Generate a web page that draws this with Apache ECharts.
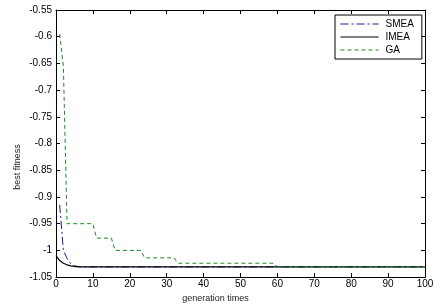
<!DOCTYPE html>
<html><head><meta charset="utf-8">
<script src="https://cdn.jsdelivr.net/npm/echarts@6/dist/echarts.min.js"></script>
<style>html,body{margin:0;padding:0;background:#fff}#c{width:441px;height:308px}</style>
</head><body><div id="c"></div>
<script>
// Data (generation, best fitness) breakpoints
const smeaGen = [1, 2, 3, 4, 5, 6, 8, 100];
const smeaFit = [-0.915, -1.0, -1.015, -1.025, -1.029, -1.030, -1.031, -1.031];
const imeaGen = [0, 1, 2, 3, 4, 6, 100];
const imeaFit = [-1.010, -1.019, -1.024, -1.027, -1.029, -1.031, -1.031];
const gaGen = [1, 2, 3, 10, 11, 15, 16, 23, 24, 32, 33, 59, 60, 100];
const gaFit = [-0.595, -0.655, -0.95, -0.95, -0.977, -0.977, -1.0, -1.0, -1.014, -1.014, -1.024, -1.024, -1.031, -1.031];
const seriesNames = ['SMEA', 'IMEA', 'GA'];
const xTicks = [0, 10, 20, 30, 40, 50, 60, 70, 80, 90, 100];
const yTicks = [-1.05, -1, -0.95, -0.9, -0.85, -0.8, -0.75, -0.7, -0.65, -0.6, -0.55];

const pairs = (xs, ys) => xs.map((x, i) => [x, ys[i]]);
const font = 'Liberation Sans, Arial, sans-serif';
const chart = echarts.init(document.getElementById('c'));
const baseX = {
  type: 'value', min: xTicks[0], max: xTicks[xTicks.length - 1], interval: 10,
  axisLine: { show: true, onZero: false, lineStyle: { color: '#000', width: 1 } },
  axisTick: { show: true, inside: true, length: 4, lineStyle: { color: '#000' } },
  splitLine: { show: false }
};
const baseY = {
  type: 'value', min: yTicks[0], max: yTicks[yTicks.length - 1], interval: 0.05,
  axisLine: { show: true, onZero: false, lineStyle: { color: '#000', width: 1 } },
  axisTick: { show: true, inside: true, length: 4, lineStyle: { color: '#000' } },
  splitLine: { show: false }
};
chart.setOption({
  animation: false,
  backgroundColor: '#fff',
  grid: { left: 56, right: 16, top: 10, bottom: 28 },
  graphic: [{
    type: 'text', x: 13, y: 167, rotation: Math.PI / 2,
    style: { text: 'best fitness', fontFamily: font, fontSize: 9, fill: '#222',
      align: 'center', verticalAlign: 'top' }
  }],
  xAxis: [
    Object.assign({}, baseX, {
      position: 'bottom',
      name: 'generation times', nameLocation: 'middle', nameGap: 14,
      nameTextStyle: { fontFamily: font, fontSize: 9, color: '#222', padding: [0, 50, 0, 0] },
      axisLabel: { fontFamily: font, fontSize: 10, color: '#000', margin: 2 }
    }),
    Object.assign({}, baseX, { position: 'top', axisLabel: { show: false } })
  ],
  yAxis: [
    Object.assign({}, baseY, {
      position: 'left',
      axisLabel: { fontFamily: font, fontSize: 10, color: '#000', margin: 4,
        formatter: v => String(+v.toFixed(2)) }
    }),
    Object.assign({}, baseY, { position: 'right', axisLabel: { show: false } })
  ],
  legend: {
    orient: 'vertical', left: 335, top: 15,
    backgroundColor: '#fff', borderColor: '#000', borderWidth: 1,
    padding: [4, 8, 4, 5], itemGap: 3, itemWidth: 38, itemHeight: 10,
    itemStyle: { opacity: 0 },
    lineStyle: { width: 1 },
    textStyle: { fontFamily: font, fontSize: 10, color: '#000', padding: [0, 0, 0, 2] },
    data: seriesNames
  },
  series: [
    { name: seriesNames[0], type: 'line', data: pairs(smeaGen, smeaFit), symbol: 'none',
      lineStyle: { color: '#1a1aa0', width: 1, type: [8, 3, 2, 3] }, itemStyle: { color: '#1a1aa0' } },
    { name: seriesNames[1], type: 'line', data: pairs(imeaGen, imeaFit), symbol: 'none',
      lineStyle: { color: '#000', width: 1.2, type: 'solid' }, itemStyle: { color: '#000' } },
    { name: seriesNames[2], type: 'line', data: pairs(gaGen, gaFit), symbol: 'none',
      lineStyle: { color: '#1e8a1e', width: 1, type: [4, 3] }, itemStyle: { color: '#1e8a1e' } }
  ]
});
</script></body></html>
